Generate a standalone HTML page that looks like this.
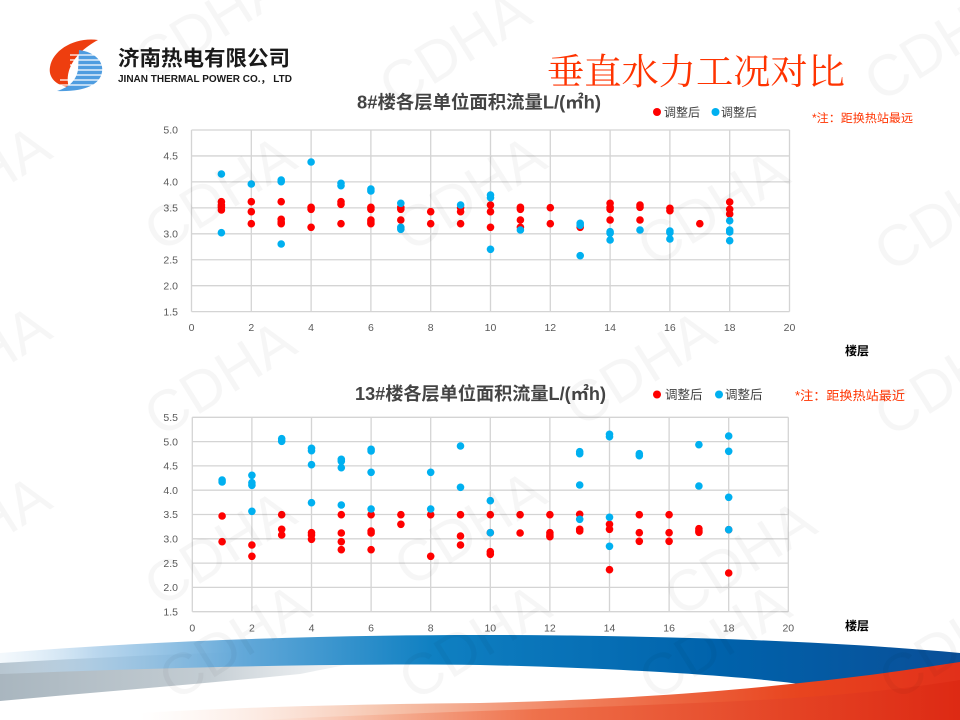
<!DOCTYPE html>
<html>
<head>
<meta charset="utf-8">
<style>
html,body{margin:0;padding:0;background:#fff;width:960px;height:720px;overflow:hidden;}
svg{display:block;overflow:hidden;}
</style>
</head>
<body>
<svg width="960" height="720" viewBox="0 0 960 720" xmlns="http://www.w3.org/2000/svg" font-family="'Liberation Sans','Noto Sans CJK SC',sans-serif">
<defs>
  <linearGradient id="gBlue" x1="0" y1="0" x2="960" y2="0" gradientUnits="userSpaceOnUse">
    <stop offset="0" stop-color="#d8e9f6" stop-opacity="0.3"/>
    <stop offset="0.1" stop-color="#a9cde9" stop-opacity="0.8"/>
    <stop offset="0.25" stop-color="#64a9d9"/>
    <stop offset="0.45" stop-color="#0f80c2"/>
    <stop offset="0.75" stop-color="#0062ab"/>
    <stop offset="1" stop-color="#0a4f98"/>
  </linearGradient>
  <linearGradient id="gGrey" x1="0" y1="0" x2="420" y2="0" gradientUnits="userSpaceOnUse">
    <stop offset="0" stop-color="#a9b6bf"/>
    <stop offset="0.5" stop-color="#c4cdd3"/>
    <stop offset="1" stop-color="#e8ecef" stop-opacity="0"/>
  </linearGradient>
  <linearGradient id="gRed" x1="140" y1="0" x2="960" y2="0" gradientUnits="userSpaceOnUse">
    <stop offset="0" stop-color="#fbe3d8" stop-opacity="0"/>
    <stop offset="0.3" stop-color="#f6c4ad"/>
    <stop offset="0.55" stop-color="#f07c58"/>
    <stop offset="0.8" stop-color="#e8451f"/>
    <stop offset="1" stop-color="#e2301a"/>
  </linearGradient>
  <linearGradient id="gRed2" x1="250" y1="0" x2="960" y2="0" gradientUnits="userSpaceOnUse">
    <stop offset="0" stop-color="#f7b79c" stop-opacity="0"/>
    <stop offset="0.4" stop-color="#ee6a43"/>
    <stop offset="1" stop-color="#dc2812"/>
  </linearGradient>
</defs>

<!-- bottom waves -->
<path d="M0,663 C120,656 220,652 320,650 L420,650 C380,658 330,668 300,674 C200,684 100,692 0,701 Z" fill="url(#gGrey)"/>
<path d="M0,653 C150,641 320,635 480,635 C640,635 820,640 960,653 L960,668 C900,676 840,682 800,684 C740,676 620,668 480,665 C330,663 150,668 0,674 Z" fill="url(#gBlue)"/>
<path d="M140,713 C260,706 380,704 480,703 C600,700 700,694 800,683 C870,676 920,668 960,662 L960,720 L140,720 Z" fill="url(#gRed)"/>
<path d="M260,720 C420,712 600,708 760,700 C850,695 910,688 960,680 L960,720 Z" fill="url(#gRed2)" opacity="0.8"/>

<!-- logo -->
<path d="M98,40 C76,37 53,49 50,67 C48,78 57,86 69,87 C65,75 70,55 98,40 Z" fill="#ee3e0f"/>
<path d="M79,50 C95,52 104,62 102,72 C100,85 84,92 57,91 C70,87 76,80 78,70 Z" fill="#4f9de0"/>
<g stroke="#ffffff" stroke-width="1.3">
  <line x1="70" y1="55" x2="106" y2="55"/>
  <line x1="70" y1="60" x2="106" y2="60"/>
  <line x1="70" y1="65" x2="106" y2="65"/>
  <line x1="70" y1="70" x2="106" y2="70"/>
  <line x1="70" y1="75" x2="106" y2="75"/>
  <line x1="60" y1="80" x2="106" y2="80"/>
  <line x1="55" y1="85" x2="106" y2="85"/>
</g>
<text x="118" y="65.5" font-size="21" font-weight="bold" fill="#1a1a1a" textLength="172" lengthAdjust="spacingAndGlyphs">济南热电有限公司</text>
<text x="118" y="82" font-size="10.5" font-weight="bold" fill="#1a1a1a" textLength="174" lengthAdjust="spacingAndGlyphs">JINAN THERMAL POWER CO.， LTD</text>

<!-- main title -->
<text x="547" y="84" font-size="36" fill="#ff3300" font-family="'Liberation Serif','Noto Serif CJK SC',serif" textLength="298" lengthAdjust="spacingAndGlyphs">垂直水力工况对比</text>

<!-- ============ CHART 1 ============ -->
<text x="357" y="108.5" font-size="18" font-weight="bold" fill="#444" textLength="244" lengthAdjust="spacingAndGlyphs">8#楼各层单位面积流量L/(㎡h)</text>
<circle cx="657" cy="112" r="4" fill="#ff0000"/>
<text x="664" y="116.5" font-size="12" fill="#404040">调整后</text>
<circle cx="715.5" cy="112" r="4" fill="#00b0f0"/>
<text x="721" y="116.5" font-size="12" fill="#404040">调整后</text>
<text x="812" y="122" font-size="11.5" fill="#ff3300" textLength="101" lengthAdjust="spacingAndGlyphs">*注：距换热站最远</text>

<g stroke="#d4d4d4" stroke-width="1.3" fill="none">
  <line x1="191.5" y1="130" x2="789.5" y2="130"/>
  <line x1="191.5" y1="155.95" x2="789.5" y2="155.95"/>
  <line x1="191.5" y1="181.9" x2="789.5" y2="181.9"/>
  <line x1="191.5" y1="207.85" x2="789.5" y2="207.85"/>
  <line x1="191.5" y1="233.8" x2="789.5" y2="233.8"/>
  <line x1="191.5" y1="259.75" x2="789.5" y2="259.75"/>
  <line x1="191.5" y1="285.7" x2="789.5" y2="285.7"/>
  <line x1="191.5" y1="311.65" x2="789.5" y2="311.65"/>
  <line x1="191.5" y1="130" x2="191.5" y2="311.65"/>
  <line x1="251.3" y1="130" x2="251.3" y2="311.65"/>
  <line x1="311.1" y1="130" x2="311.1" y2="311.65"/>
  <line x1="370.9" y1="130" x2="370.9" y2="311.65"/>
  <line x1="430.7" y1="130" x2="430.7" y2="311.65"/>
  <line x1="490.5" y1="130" x2="490.5" y2="311.65"/>
  <line x1="550.3" y1="130" x2="550.3" y2="311.65"/>
  <line x1="610.1" y1="130" x2="610.1" y2="311.65"/>
  <line x1="669.9" y1="130" x2="669.9" y2="311.65"/>
  <line x1="729.7" y1="130" x2="729.7" y2="311.65"/>
  <line x1="789.5" y1="130" x2="789.5" y2="311.65"/>
</g>
<g font-size="10.5" fill="#595959" text-anchor="end">
  <text x="178" y="133.7">5.0</text>
  <text x="178" y="159.6">4.5</text>
  <text x="178" y="185.6">4.0</text>
  <text x="178" y="211.5">3.5</text>
  <text x="178" y="237.5">3.0</text>
  <text x="178" y="263.4">2.5</text>
  <text x="178" y="289.4">2.0</text>
  <text x="178" y="315.3">1.5</text>
</g>
<g font-size="10.5" fill="#595959" text-anchor="middle">
  <text x="191.5" y="331">0</text>
  <text x="251.3" y="331">2</text>
  <text x="311.1" y="331">4</text>
  <text x="370.9" y="331">6</text>
  <text x="430.7" y="331">8</text>
  <text x="490.5" y="331">10</text>
  <text x="550.3" y="331">12</text>
  <text x="610.1" y="331">14</text>
  <text x="669.9" y="331">16</text>
  <text x="729.7" y="331">18</text>
  <text x="789.5" y="331">20</text>
</g>
<text x="845" y="355" font-size="12" font-weight="bold" fill="#000">楼层</text>

<g fill="#ff0000">
  <circle cx="221.4" cy="201.7" r="3.8"/><circle cx="221.4" cy="205" r="3.8"/><circle cx="221.4" cy="207.3" r="3.8"/><circle cx="221.4" cy="210" r="3.8"/>
  <circle cx="251.3" cy="201.7" r="3.8"/><circle cx="251.3" cy="211.7" r="3.8"/><circle cx="251.3" cy="223.7" r="3.8"/>
  <circle cx="281.2" cy="201.7" r="3.8"/><circle cx="281.2" cy="219.3" r="3.8"/><circle cx="281.2" cy="222" r="3.8"/><circle cx="281.2" cy="223.7" r="3.8"/>
  <circle cx="311.1" cy="207.3" r="3.8"/><circle cx="311.1" cy="209.3" r="3.8"/><circle cx="311.1" cy="227.3" r="3.8"/>
  <circle cx="341" cy="201.7" r="3.8"/><circle cx="341" cy="204.3" r="3.8"/><circle cx="341" cy="223.7" r="3.8"/>
  <circle cx="370.9" cy="207.3" r="3.8"/><circle cx="370.9" cy="209.3" r="3.8"/><circle cx="370.9" cy="220" r="3.8"/><circle cx="370.9" cy="222" r="3.8"/><circle cx="370.9" cy="223.7" r="3.8"/>
  <circle cx="400.8" cy="207.3" r="3.8"/><circle cx="400.8" cy="209.3" r="3.8"/><circle cx="400.8" cy="220" r="3.8"/>
  <circle cx="430.7" cy="211.7" r="3.8"/><circle cx="430.7" cy="223.7" r="3.8"/>
  <circle cx="460.6" cy="207.7" r="3.8"/><circle cx="460.6" cy="211.7" r="3.8"/><circle cx="460.6" cy="223.7" r="3.8"/>
  <circle cx="490.5" cy="205" r="3.8"/><circle cx="490.5" cy="211.7" r="3.8"/><circle cx="490.5" cy="227.3" r="3.8"/>
  <circle cx="520.4" cy="207.3" r="3.8"/><circle cx="520.4" cy="209.3" r="3.8"/><circle cx="520.4" cy="220" r="3.8"/><circle cx="520.4" cy="227.3" r="3.8"/>
  <circle cx="550.3" cy="207.7" r="3.8"/><circle cx="550.3" cy="223.7" r="3.8"/>
  <circle cx="580.2" cy="227.3" r="3.8"/>
  <circle cx="610.1" cy="203.3" r="3.8"/><circle cx="610.1" cy="207.3" r="3.8"/><circle cx="610.1" cy="209.3" r="3.8"/><circle cx="610.1" cy="220" r="3.8"/>
  <circle cx="640" cy="205" r="3.8"/><circle cx="640" cy="207.3" r="3.8"/><circle cx="640" cy="220" r="3.8"/>
  <circle cx="669.9" cy="208.3" r="3.8"/><circle cx="669.9" cy="210.7" r="3.8"/>
  <circle cx="699.8" cy="223.7" r="3.8"/>
  <circle cx="729.7" cy="202" r="3.8"/><circle cx="729.7" cy="209.3" r="3.8"/><circle cx="729.7" cy="214" r="3.8"/>
</g>
<g fill="#00b0f0">
  <circle cx="221.4" cy="174" r="3.8"/><circle cx="221.4" cy="232.7" r="3.8"/>
  <circle cx="251.3" cy="184" r="3.8"/>
  <circle cx="281.2" cy="180" r="3.8"/><circle cx="281.2" cy="181.7" r="3.8"/><circle cx="281.2" cy="244" r="3.8"/>
  <circle cx="311.1" cy="162" r="3.8"/>
  <circle cx="341" cy="183.3" r="3.8"/><circle cx="341" cy="185.7" r="3.8"/>
  <circle cx="370.9" cy="189" r="3.8"/><circle cx="370.9" cy="191" r="3.8"/>
  <circle cx="400.8" cy="203.3" r="3.8"/><circle cx="400.8" cy="227.3" r="3.8"/><circle cx="400.8" cy="229.3" r="3.8"/>
  <circle cx="460.6" cy="205" r="3.8"/>
  <circle cx="490.5" cy="195" r="3.8"/><circle cx="490.5" cy="197.7" r="3.8"/><circle cx="490.5" cy="249.3" r="3.8"/>
  <circle cx="520.4" cy="230" r="3.8"/>
  <circle cx="580.2" cy="223.3" r="3.8"/><circle cx="580.2" cy="225.3" r="3.8"/><circle cx="580.2" cy="255.7" r="3.8"/>
  <circle cx="610.1" cy="231.7" r="3.8"/><circle cx="610.1" cy="233.3" r="3.8"/><circle cx="610.1" cy="240" r="3.8"/>
  <circle cx="640" cy="230" r="3.8"/>
  <circle cx="669.9" cy="231" r="3.8"/><circle cx="669.9" cy="232.7" r="3.8"/><circle cx="669.9" cy="239" r="3.8"/>
  <circle cx="729.7" cy="220.7" r="3.8"/><circle cx="729.7" cy="230" r="3.8"/><circle cx="729.7" cy="232" r="3.8"/><circle cx="729.7" cy="240.7" r="3.8"/>
</g>

<!-- ============ CHART 2 ============ -->
<text x="355" y="400" font-size="18" font-weight="bold" fill="#444" textLength="251" lengthAdjust="spacingAndGlyphs">13#楼各层单位面积流量L/(㎡h)</text>
<circle cx="657" cy="394.5" r="4" fill="#ff0000"/>
<text x="665" y="399" font-size="12.5" fill="#404040">调整后</text>
<circle cx="719" cy="394.5" r="4" fill="#00b0f0"/>
<text x="725" y="399" font-size="12.5" fill="#404040">调整后</text>
<text x="795" y="400" font-size="12.5" fill="#ff3300" textLength="110" lengthAdjust="spacingAndGlyphs">*注：距换热站最近</text>

<g stroke="#d4d4d4" stroke-width="1.3" fill="none">
  <line x1="192.3" y1="417.3" x2="788.3" y2="417.3"/>
  <line x1="192.3" y1="441.6" x2="788.3" y2="441.6"/>
  <line x1="192.3" y1="465.9" x2="788.3" y2="465.9"/>
  <line x1="192.3" y1="490.2" x2="788.3" y2="490.2"/>
  <line x1="192.3" y1="514.5" x2="788.3" y2="514.5"/>
  <line x1="192.3" y1="538.8" x2="788.3" y2="538.8"/>
  <line x1="192.3" y1="563.1" x2="788.3" y2="563.1"/>
  <line x1="192.3" y1="587.4" x2="788.3" y2="587.4"/>
  <line x1="192.3" y1="611.7" x2="788.3" y2="611.7"/>
  <line x1="192.3" y1="417.3" x2="192.3" y2="611.7"/>
  <line x1="251.9" y1="417.3" x2="251.9" y2="611.7"/>
  <line x1="311.5" y1="417.3" x2="311.5" y2="611.7"/>
  <line x1="371.1" y1="417.3" x2="371.1" y2="611.7"/>
  <line x1="430.7" y1="417.3" x2="430.7" y2="611.7"/>
  <line x1="490.3" y1="417.3" x2="490.3" y2="611.7"/>
  <line x1="549.9" y1="417.3" x2="549.9" y2="611.7"/>
  <line x1="609.5" y1="417.3" x2="609.5" y2="611.7"/>
  <line x1="669.1" y1="417.3" x2="669.1" y2="611.7"/>
  <line x1="728.7" y1="417.3" x2="728.7" y2="611.7"/>
  <line x1="788.3" y1="417.3" x2="788.3" y2="611.7"/>
</g>
<g font-size="10.5" fill="#595959" text-anchor="end">
  <text x="178" y="421">5.5</text>
  <text x="178" y="445.3">5.0</text>
  <text x="178" y="469.6">4.5</text>
  <text x="178" y="493.9">4.0</text>
  <text x="178" y="518.2">3.5</text>
  <text x="178" y="542.5">3.0</text>
  <text x="178" y="566.8">2.5</text>
  <text x="178" y="591.1">2.0</text>
  <text x="178" y="615.4">1.5</text>
</g>
<g font-size="10.5" fill="#595959" text-anchor="middle">
  <text x="192.3" y="631.5">0</text>
  <text x="251.9" y="631.5">2</text>
  <text x="311.5" y="631.5">4</text>
  <text x="371.1" y="631.5">6</text>
  <text x="430.7" y="631.5">8</text>
  <text x="490.3" y="631.5">10</text>
  <text x="549.9" y="631.5">12</text>
  <text x="609.5" y="631.5">14</text>
  <text x="669.1" y="631.5">16</text>
  <text x="728.7" y="631.5">18</text>
  <text x="788.3" y="631.5">20</text>
</g>
<text x="845" y="630" font-size="12" font-weight="bold" fill="#000">楼层</text>

<g fill="#ff0000">
  <circle cx="222.1" cy="516" r="3.8"/><circle cx="222.1" cy="541.7" r="3.8"/>
  <circle cx="251.9" cy="545" r="3.8"/><circle cx="251.9" cy="556.3" r="3.8"/>
  <circle cx="281.7" cy="514.7" r="3.8"/><circle cx="281.7" cy="529.3" r="3.8"/><circle cx="281.7" cy="535" r="3.8"/>
  <circle cx="311.5" cy="532.7" r="3.8"/><circle cx="311.5" cy="535" r="3.8"/><circle cx="311.5" cy="539.3" r="3.8"/>
  <circle cx="341.3" cy="514.7" r="3.8"/><circle cx="341.3" cy="533" r="3.8"/><circle cx="341.3" cy="541.7" r="3.8"/><circle cx="341.3" cy="549.7" r="3.8"/>
  <circle cx="371.1" cy="514.7" r="3.8"/><circle cx="371.1" cy="531" r="3.8"/><circle cx="371.1" cy="533" r="3.8"/><circle cx="371.1" cy="549.7" r="3.8"/>
  <circle cx="400.9" cy="514.7" r="3.8"/><circle cx="400.9" cy="524.3" r="3.8"/>
  <circle cx="430.7" cy="514.7" r="3.8"/><circle cx="430.7" cy="556.3" r="3.8"/>
  <circle cx="460.5" cy="514.7" r="3.8"/><circle cx="460.5" cy="536" r="3.8"/><circle cx="460.5" cy="545" r="3.8"/>
  <circle cx="490.3" cy="514.7" r="3.8"/><circle cx="490.3" cy="532.7" r="3.8"/><circle cx="490.3" cy="551.7" r="3.8"/><circle cx="490.3" cy="554.3" r="3.8"/>
  <circle cx="520.1" cy="514.7" r="3.8"/><circle cx="520.1" cy="533" r="3.8"/>
  <circle cx="549.9" cy="514.7" r="3.8"/><circle cx="549.9" cy="532.7" r="3.8"/><circle cx="549.9" cy="535" r="3.8"/><circle cx="549.9" cy="536.7" r="3.8"/>
  <circle cx="579.7" cy="514.3" r="3.8"/><circle cx="579.7" cy="529.3" r="3.8"/><circle cx="579.7" cy="531" r="3.8"/>
  <circle cx="609.5" cy="524.3" r="3.8"/><circle cx="609.5" cy="529.3" r="3.8"/><circle cx="609.5" cy="569.7" r="3.8"/>
  <circle cx="639.3" cy="514.7" r="3.8"/><circle cx="639.3" cy="532.7" r="3.8"/><circle cx="639.3" cy="541.3" r="3.8"/>
  <circle cx="669.1" cy="514.7" r="3.8"/><circle cx="669.1" cy="532.7" r="3.8"/><circle cx="669.1" cy="541.3" r="3.8"/>
  <circle cx="698.9" cy="528.7" r="3.8"/><circle cx="698.9" cy="530.7" r="3.8"/><circle cx="698.9" cy="532.3" r="3.8"/>
  <circle cx="728.7" cy="529.7" r="3.8"/><circle cx="728.7" cy="573" r="3.8"/>
</g>
<g fill="#00b0f0">
  <circle cx="222.1" cy="480" r="3.8"/><circle cx="222.1" cy="482" r="3.8"/>
  <circle cx="251.9" cy="475.3" r="3.8"/><circle cx="251.9" cy="482.7" r="3.8"/><circle cx="251.9" cy="485.3" r="3.8"/><circle cx="251.9" cy="511.3" r="3.8"/>
  <circle cx="281.7" cy="438.7" r="3.8"/><circle cx="281.7" cy="441.3" r="3.8"/>
  <circle cx="311.5" cy="448.3" r="3.8"/><circle cx="311.5" cy="450.7" r="3.8"/><circle cx="311.5" cy="464.7" r="3.8"/><circle cx="311.5" cy="502.7" r="3.8"/>
  <circle cx="341.3" cy="459.3" r="3.8"/><circle cx="341.3" cy="461.3" r="3.8"/><circle cx="341.3" cy="467.7" r="3.8"/><circle cx="341.3" cy="505" r="3.8"/>
  <circle cx="371.1" cy="449.3" r="3.8"/><circle cx="371.1" cy="451" r="3.8"/><circle cx="371.1" cy="472.3" r="3.8"/><circle cx="371.1" cy="509" r="3.8"/>
  <circle cx="430.7" cy="472.3" r="3.8"/><circle cx="430.7" cy="509" r="3.8"/>
  <circle cx="460.5" cy="446" r="3.8"/><circle cx="460.5" cy="487.3" r="3.8"/>
  <circle cx="490.3" cy="500.7" r="3.8"/><circle cx="490.3" cy="532.7" r="3.8"/>
  <circle cx="579.7" cy="451.7" r="3.8"/><circle cx="579.7" cy="453.7" r="3.8"/><circle cx="579.7" cy="485" r="3.8"/><circle cx="579.7" cy="519.3" r="3.8"/>
  <circle cx="609.5" cy="434.3" r="3.8"/><circle cx="609.5" cy="436.7" r="3.8"/><circle cx="609.5" cy="517.3" r="3.8"/><circle cx="609.5" cy="546.3" r="3.8"/>
  <circle cx="639.3" cy="453.7" r="3.8"/><circle cx="639.3" cy="455.7" r="3.8"/>
  <circle cx="698.9" cy="444.7" r="3.8"/><circle cx="698.9" cy="486" r="3.8"/>
  <circle cx="728.7" cy="436" r="3.8"/><circle cx="728.7" cy="451.3" r="3.8"/><circle cx="728.7" cy="497.3" r="3.8"/><circle cx="728.7" cy="529.7" r="3.8"/>
</g>

<!-- watermarks -->
<g font-size="58" fill="#000" fill-opacity="0.035" text-anchor="middle" font-family="'Liberation Sans',sans-serif">
  <text transform="translate(220,40) rotate(-32)">CDHA</text>
  <text transform="translate(465,65) rotate(-32)">CDHA</text>
  <text transform="translate(950,60) rotate(-32)">CDHA</text>
  <text transform="translate(-15,200) rotate(-32)">CDHA</text>
  <text transform="translate(230,210) rotate(-32)">CDHA</text>
  <text transform="translate(480,210) rotate(-32)">CDHA</text>
  <text transform="translate(723,225) rotate(-32)">CDHA</text>
  <text transform="translate(960,230) rotate(-32)">CDHA</text>
  <text transform="translate(-15,380) rotate(-32)">CDHA</text>
  <text transform="translate(230,395) rotate(-32)">CDHA</text>
  <text transform="translate(650,385) rotate(-32)">CDHA</text>
  <text transform="translate(960,395) rotate(-32)">CDHA</text>
  <text transform="translate(-15,550) rotate(-32)">CDHA</text>
  <text transform="translate(230,565) rotate(-32)">CDHA</text>
  <text transform="translate(480,545) rotate(-32)">CDHA</text>
  <text transform="translate(750,575) rotate(-32)">CDHA</text>
</g>
<g font-size="58" fill="#000" fill-opacity="0.035" text-anchor="start" font-family="'Liberation Sans',sans-serif">
  <text transform="translate(175,702) rotate(-32)">CDHA</text>
  <text transform="translate(415,702) rotate(-32)">CDHA</text>
  <text transform="translate(655,702) rotate(-32)">CDHA</text>
  <text transform="translate(895,702) rotate(-32)">CDHA</text>
</g>
</svg>
</body>
</html>
